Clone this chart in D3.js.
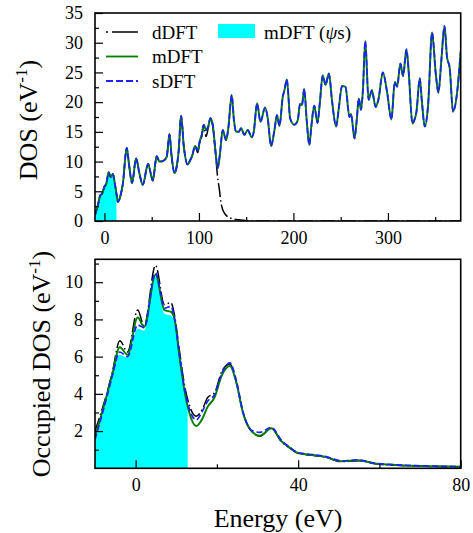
<!DOCTYPE html>
<html><head><meta charset="utf-8">
<script src="https://cdn.jsdelivr.net/npm/d3@7"></script>
<style>
body{margin:0;background:#fff;}
svg text{font-family:"Liberation Serif","Times New Roman",serif;fill:#000;}
</style></head>
<body><svg id="c" width="473" height="533"></svg>
<script>
// ---------- Top panel data ----------
const topEnergy = [-10,-7,-4.5,-2.5,0,2,4.5,6.5,9,11,12.7,14.2,17,19.5,23.6,26,29.2,33.5,37,40.5,46.2,49,51.1,55.3,58.2,62,65.9,68.8,71,74.1,76,78.6,81.1,84,88.1,90,92.7,95.9,98.7,101,103,105,107.5,110,112.1,114.6,117,119.9,122,125.2,128.7,131,134.7,137,139.3,142,144.6,148.1,151.6,155.9,158,161.5,165.1,170,172.8,176.3,179.9,182.6,185.2,188.7,190.5,193,196.6,201,204.6,207,209,211.4,214,216.8,219,222,225.5,228,231,234,237.5,241,245.2,248,251.4,255,259.3,261,264.6,267,269.1,271.5,273.5,276,279.5,283,287,290,294.6,299,303.7,307.2,309.7,313.2,316,319.6,322,325.9,328,330.2,333.7,336,339,342.5,346.7,350.6,353.4,356.5,359.8,362.5,365.4,368.9,373.1,377];
const topMdft = [1.0,2.6,4.3,4.6,5.8,6.3,8.2,7.4,7.9,6.3,4.6,3.2,4.3,6.3,12.3,9.5,6.4,10.5,8.0,6.1,9.6,8.0,6.8,10.9,10.0,10.1,10.8,14.6,11.0,8.1,8.8,11.9,17.7,12.5,9.5,10.0,10.9,12.6,11.9,13.5,14.5,16.2,15.3,16.0,17.3,16.2,12.5,8.9,11.0,15.3,13.6,15.5,21.2,17.0,15.0,15.0,15.6,14.5,15.3,14.1,15.0,19.8,16.7,19.1,17.3,12.6,15.3,17.8,16.0,20.9,22.0,23.8,17.2,16.2,17.0,19.7,19.5,22.2,17.0,12.8,16.0,19.4,16.5,20.0,24.5,22.9,24.8,20.0,15.9,19.0,22.7,22.6,17.5,18.0,13.9,17.0,20.6,18.7,22.0,30.3,20.4,22.0,19.2,20.5,25.0,21.8,17.1,23.4,22.6,26.5,24.4,28.9,25.0,16.4,17.0,18.4,24.0,20.0,15.9,19.5,31.7,24.8,21.6,27.0,32.8,27.6,25.7,18.4,21.5,28.5];
const topSdft = [1.0,2.6,4.3,4.6,5.8,6.3,8.2,7.4,7.9,6.3,4.6,3.2,4.3,6.3,12.3,9.5,6.4,10.5,8.0,6.1,9.6,8.0,6.8,10.9,10.0,10.1,10.8,14.6,11.0,8.1,8.8,11.9,17.7,12.5,9.5,10.0,10.9,12.6,11.9,13.5,14.5,16.2,15.3,16.0,17.3,16.2,12.5,8.9,11.0,15.3,13.6,15.5,21.2,17.0,15.0,15.0,15.6,14.5,15.3,14.1,15.0,19.8,16.7,19.1,17.3,12.6,15.3,17.8,16.0,20.9,22.0,23.8,17.2,16.2,17.0,19.7,19.5,22.2,17.0,12.8,16.0,19.4,16.5,20.0,24.5,22.9,24.8,20.0,15.9,19.0,22.7,22.6,17.5,18.0,13.9,17.0,20.6,18.7,22.0,30.3,20.4,22.0,19.2,20.5,25.0,21.8,17.1,23.4,22.6,26.5,24.4,28.9,25.0,16.4,17.0,18.4,24.0,20.0,15.9,19.5,31.7,24.8,21.6,27.0,32.8,27.6,25.7,18.4,21.5,28.5];
const topDdftEnergy = [-10,-7,-4.5,-2.5,0,2,4.5,6.5,9,11,12.7,14.2,17,19.5,23.6,26,29.2,33.5,37,40.5,46.2,49,51.1,55.3,58.2,62,65.9,68.8,71,74.1,76,78.6,81.1,84,88.1,90,92.7,95.9,98.7,101,103,105,107.5,110,112.1,114.6,117,119.6,121.7,123.4,127,134,142,151.6,160,200,300,377];
const topDdft = [1.0,2.6,4.3,4.6,5.8,6.3,8.2,7.4,7.9,6.3,4.6,3.2,4.3,6.3,12.3,9.5,6.4,10.5,8.0,6.1,9.6,8.0,6.8,10.9,10.0,10.1,10.8,14.6,11.0,8.1,8.8,11.9,17.7,12.5,9.5,10.0,10.9,12.6,11.5,13.3,14.2,16.0,14.2,15.8,17.2,16.0,12.5,7.6,5.2,3.0,1.3,0.45,0.2,0.05,0,0,0,0];
const topFillEnergy = [-10,-7,-4.5,-2.5,0,2,4.5,6.5,9,11,12.7];
const topFill = [1.0,2.6,4.3,4.6,5.8,6.3,8.2,7.4,7.9,6.3,4.4];
const topXTicks = [0,100,200,300];
const topYTicks = [0,5,10,15,20,25,30,35];

// ---------- Bottom panel data ----------
const botEnergy = [-10,-8.5,-7,-5.7,-3.9,-2,0.5,2.1,4.9,7.1,8.7,9.5,10.8,12,13.2,14.9,16.5,17.7,19.4,21.2,23.2,24.8,26.4,28.5,30.6,33.4,35.9,38,40,44.1,46.6,50.7,54.8,58.9,64.6,72.9,80];
const botDdft = [2.0,3.0,4.1,5.2,6.86,6.25,8.5,7.65,10.9,8.8,8.9,8.3,6.3,4.5,3.4,2.8,3.2,3.8,4.05,5.2,5.6,4.6,3.0,2.0,1.72,2.15,1.43,1.08,0.8,0.68,0.6,0.36,0.41,0.25,0.16,0.1,0.08];
const botMdft = [1.7,2.8,4.0,5.1,6.5,6.1,8.1,7.6,10.4,8.5,8.4,8.1,6.0,4.2,3.0,2.27,2.7,3.3,3.8,5.0,5.5,4.6,3.0,2.0,1.75,2.15,1.45,1.1,0.82,0.7,0.62,0.38,0.43,0.26,0.17,0.11,0.09];
const botSdft = [1.55,2.7,3.9,5.0,6.25,6.0,7.7,7.55,10.5,8.6,8.7,8.1,6.1,4.3,3.2,2.6,3.1,3.6,3.95,5.1,5.66,4.7,3.05,2.05,1.93,2.2,1.5,1.12,0.84,0.72,0.64,0.4,0.45,0.27,0.18,0.12,0.09];
const botFillEnergy = [-10,-8.5,-7,-5.7,-3.9,-2,0.5,2.1,4.9,7.1,8.7,9.5,10.8,12,12.8];
const botFill = [1.5,2.6,3.8,4.95,6.1,5.95,7.5,7.4,10.3,8.3,8.2,7.9,6.0,4.2,3.4];
const botXTicks = [0,40,80];
const botYTicks = [2,4,6,8,10];

// ---------- Drawing ----------
const svg = d3.select("#c");
const L = 95, R = 460.7;
const colM = "#008000", colS = "#1f1fff", colF = "#00ffff";

function panel(cfg){
  const x = d3.scaleLinear().domain(cfg.xd).range([L,R]);
  const y = d3.scaleLinear().domain(cfg.yd).range([cfg.bottom,cfg.top]);
  const g = svg.append("g");
  const clipId = "clip"+cfg.id;
  svg.append("clipPath").attr("id",clipId).append("rect")
     .attr("x",L).attr("y",cfg.top).attr("width",R-L).attr("height",cfg.bottom-cfg.top);
  const pg = g.append("g").attr("clip-path","url(#"+clipId+")");
  const line = (E,V)=> d3.line().x((d,i)=>x(E[i])).y((d,i)=>y(V[i])).curve(d3.curveMonotoneX)(V);
  const area = (E,V)=> d3.area().x((d,i)=>x(E[i])).y0(y(0)).y1((d,i)=>y(V[i])).curve(d3.curveMonotoneX)(V);
  pg.append("path").attr("d",area(cfg.fillE,cfg.fill)).attr("fill",colF);
  pg.append("path").attr("d",line(cfg.dE,cfg.dV)).attr("fill","none").attr("stroke","#000")
    .attr("stroke-width",1.5).attr("stroke-dasharray","14,3,1.5,3");
  pg.append("path").attr("d",line(cfg.E,cfg.mV)).attr("fill","none").attr("stroke",colM).attr("stroke-width",2);
  pg.append("path").attr("d",line(cfg.E,cfg.sV)).attr("fill","none").attr("stroke",colS)
    .attr("stroke-width",1.7).attr("stroke-dasharray","6,3");
  // axes (inward ticks)
  const xa = d3.axisBottom(x).tickValues(cfg.xMinor).tickSize(-4).tickFormat("");
  const xA = d3.axisBottom(x).tickValues(cfg.xTicks).tickSize(-8).tickPadding(10).tickFormat(d3.format("d"));
  const ya = d3.axisLeft(y).tickValues(cfg.yMinor).tickSize(-4).tickFormat("");
  const yA = d3.axisLeft(y).tickValues(cfg.yTicks).tickSize(-8).tickPadding(12).tickFormat(d3.format("d"));
  [xa,xA].forEach(a=>{
    const ag = g.append("g").attr("transform",`translate(0,${cfg.bottom})`).call(a);
    ag.select(".domain").remove();
    ag.selectAll("line").attr("stroke","#000").attr("stroke-width",1.2);
    ag.selectAll("text").attr("font-size",18).attr("dy","0.71em");
  });
  [ya,yA].forEach(a=>{
    const ag = g.append("g").attr("transform",`translate(${L},0)`).call(a);
    ag.select(".domain").remove();
    ag.selectAll("line").attr("stroke","#000").attr("stroke-width",1.2);
    ag.selectAll("text").attr("font-size",18);
  });
  g.append("rect").attr("x",L).attr("y",cfg.top).attr("width",R-L).attr("height",cfg.bottom-cfg.top)
    .attr("fill","none").attr("stroke","#000").attr("stroke-width",1.6);
  return {x,y,g};
}

const minorRange = (a,b,s)=>d3.range(a,b+1e-9,s);

panel({id:"t", xd:[-10,377], yd:[0,35], top:13, bottom:221,
  E:topEnergy, mV:topMdft, sV:topSdft, dE:topDdftEnergy, dV:topDdft,
  fillE:topFillEnergy, fill:topFill,
  xTicks:topXTicks, xMinor:[50,150,250,350], yTicks:topYTicks, yMinor:minorRange(2.5,32.5,5)});

panel({id:"b", xd:[-10,80], yd:[0,11.23], top:259.3, bottom:468.3,
  E:botEnergy, mV:botMdft, sV:botSdft, dE:botEnergy, dV:botDdft,
  fillE:botFillEnergy, fill:botFill,
  xTicks:botXTicks, xMinor:[20,60], yTicks:botYTicks, yMinor:[1,3,5,7,9,11]});

// Legend
const lg = svg.append("g");
const legendItems = [
  {label:"dDFT", stroke:"#000", dash:"2,4,30", w:1.4},
  {label:"mDFT", stroke:colM, dash:null, w:1.8},
  {label:"sDFT", stroke:colS, dash:"7,3", w:1.8}
];
legendItems.forEach((it,i)=>{
  const yy = 32 + i*24.5;
  const ln = lg.append("line").attr("x1",106).attr("x2",138).attr("y1",yy).attr("y2",yy)
    .attr("stroke",it.stroke).attr("stroke-width",it.w);
  if(it.dash) ln.attr("stroke-dasharray",it.dash);
  lg.append("text").attr("x",152).attr("y",yy+6.5).attr("font-size",19).text(it.label);
});
lg.append("rect").attr("x",218).attr("y",24).attr("width",37).attr("height",14).attr("fill",colF);
const t4 = lg.append("text").attr("x",264).attr("y",38.5).attr("font-size",19);
t4.append("tspan").text("mDFT (");
t4.append("tspan").attr("font-style","italic").text("ψ");
t4.append("tspan").text("s)");

// Axis labels
function ylab(x,y,main){
  const t = svg.append("text").attr("transform",`translate(${x},${y}) rotate(-90)`)
    .attr("text-anchor","middle").attr("font-size",26);
  t.append("tspan").text(main+" (eV");
  t.append("tspan").attr("font-size",17).attr("dy",-10).text("-1");
  t.append("tspan").attr("dy",10).text(")");
}
ylab(37,120,"DOS");
ylab(50,364,"Occupied DOS");
svg.append("text").attr("x",278).attr("y",526.5).attr("text-anchor","middle").attr("font-size",26).text("Energy (eV)");
</script></body></html>
